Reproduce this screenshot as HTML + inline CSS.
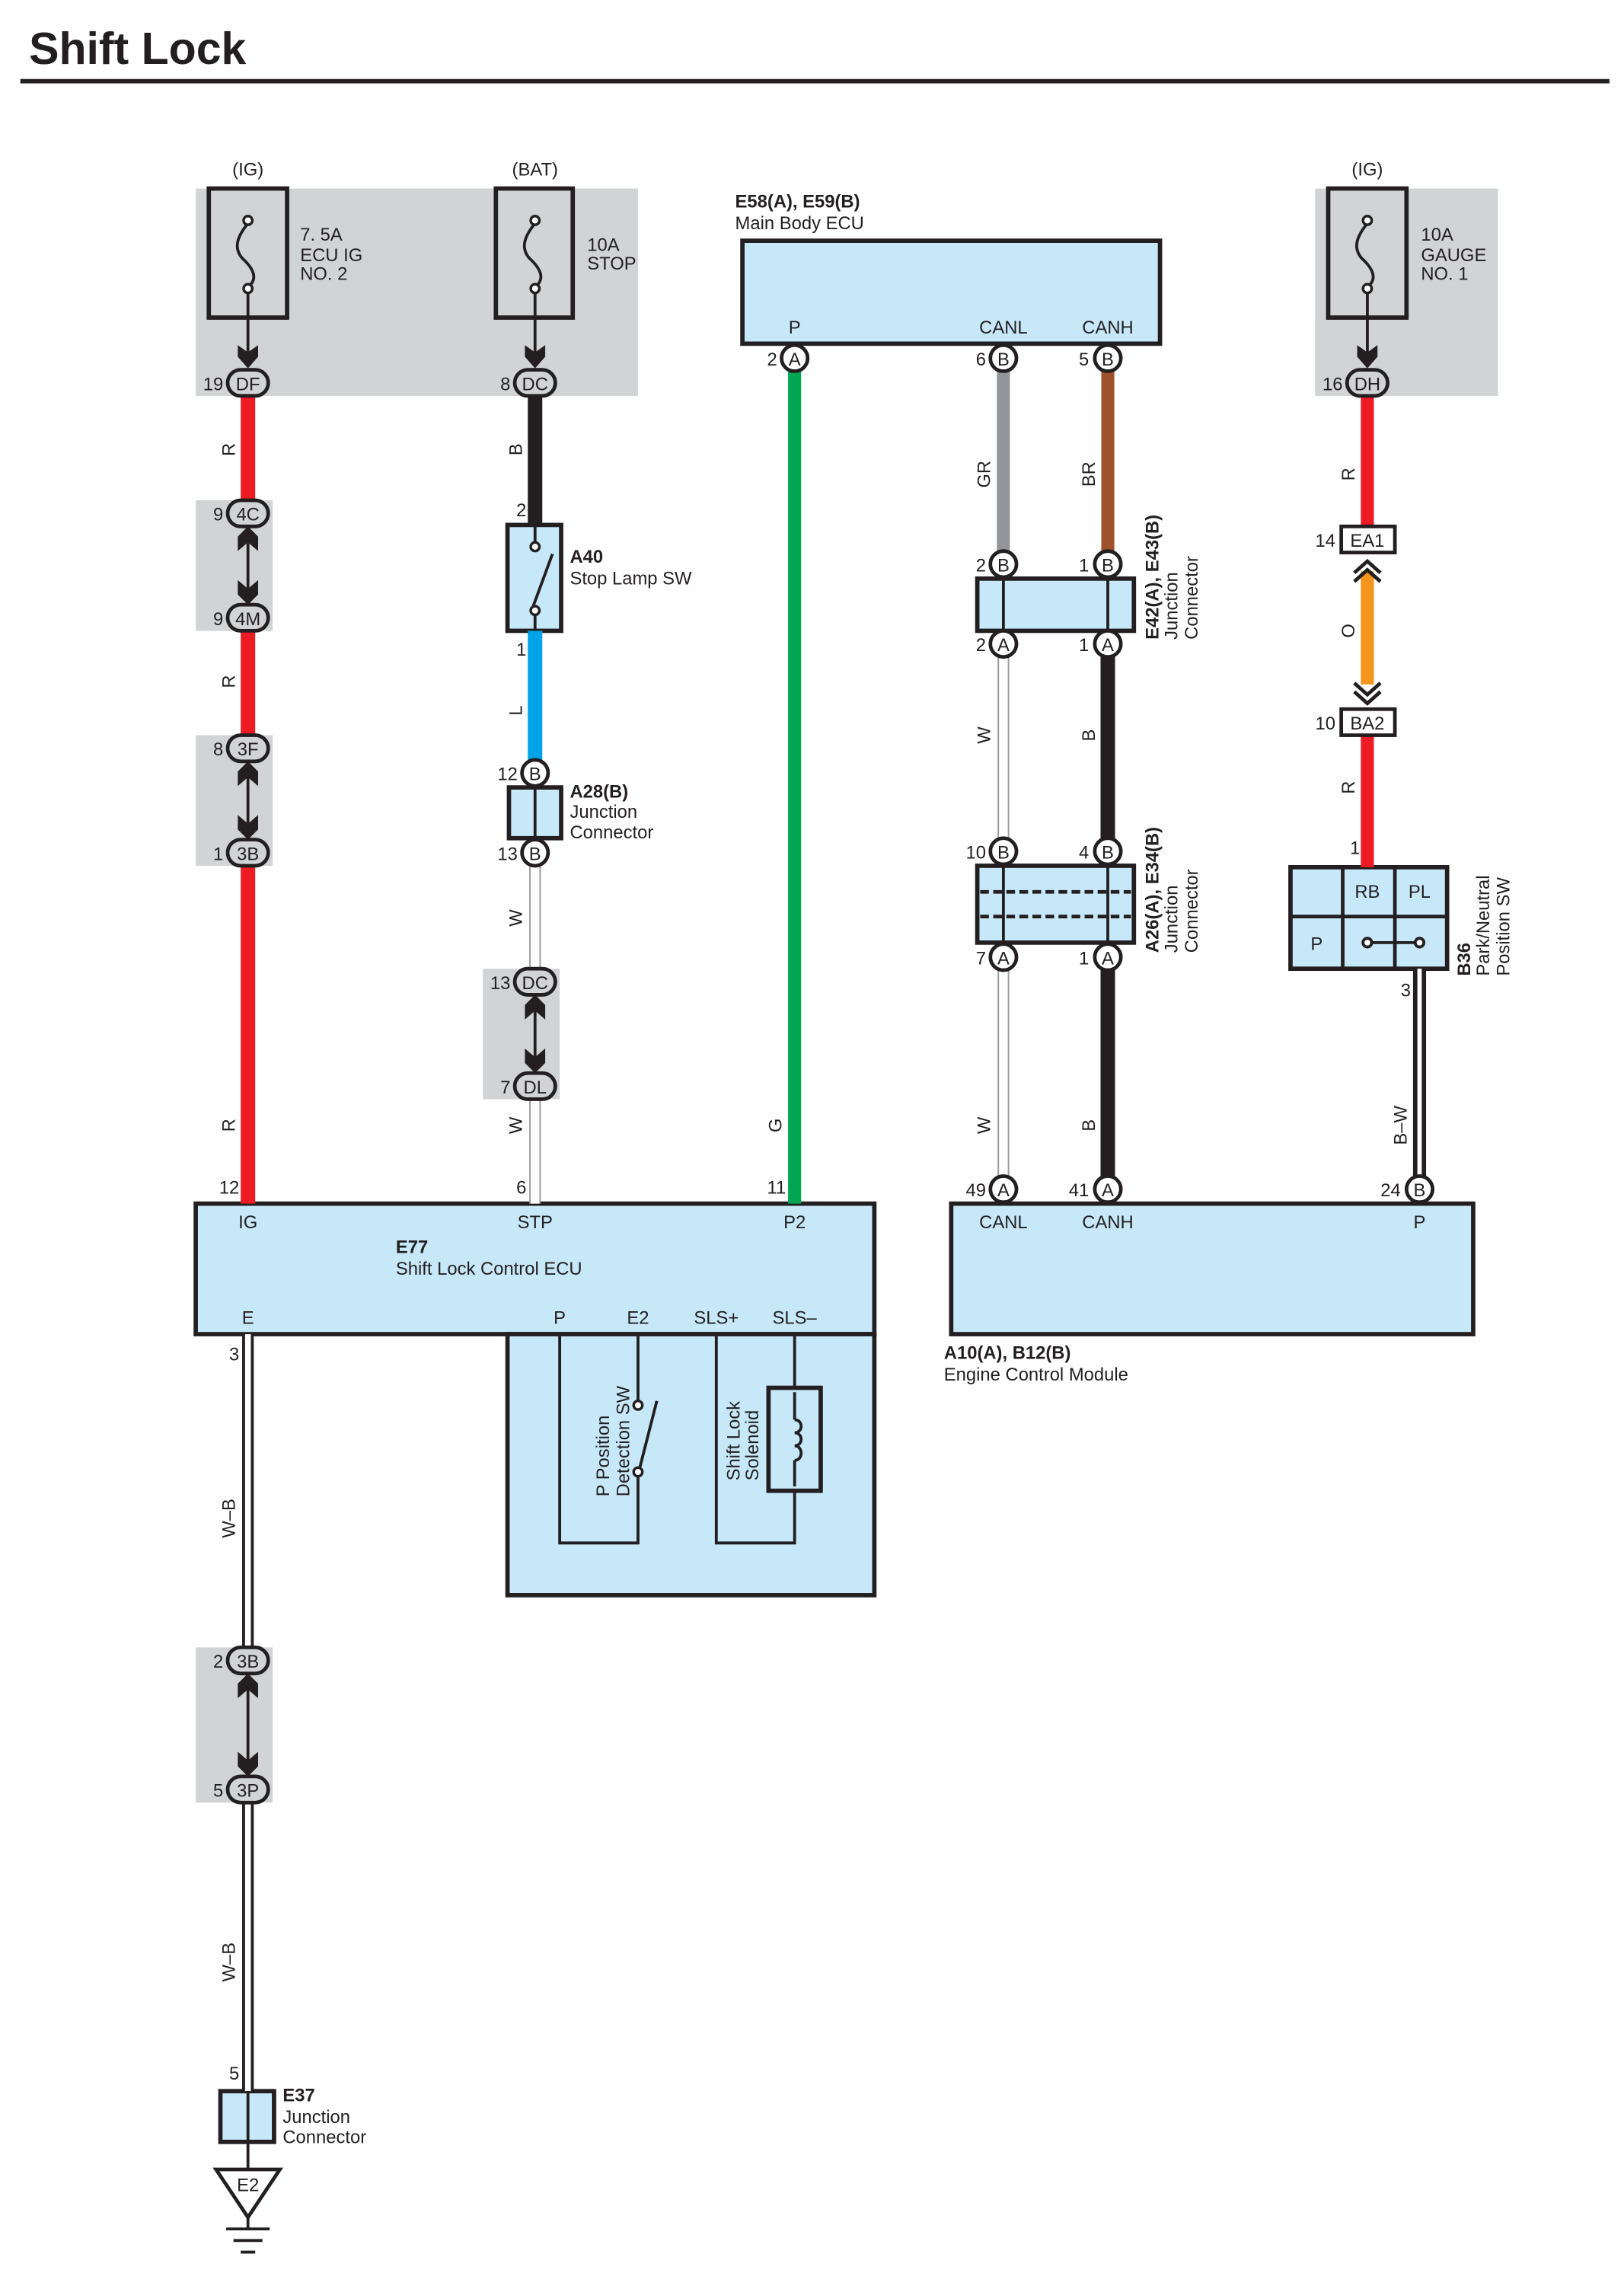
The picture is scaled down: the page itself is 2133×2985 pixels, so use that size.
<!DOCTYPE html>
<html><head><meta charset="utf-8"><style>
html,body{margin:0;padding:0;background:#fff}
svg{display:block}
text{font-family:"Liberation Sans",sans-serif;font-size:12.5px;fill:#231f20}
.b{font-weight:bold}
.c{text-anchor:middle}
.e{text-anchor:end}
</style></head><body>
<svg width="2133" height="2985" viewBox="0 0 1120 1567.4" preserveAspectRatio="none" xmlns="http://www.w3.org/2000/svg">
<rect width="1120" height="1568" fill="#fff"/>
<text x="20" y="44" class="b" style="font-size:31px">Shift Lock</text>
<line x1="14" y1="56" x2="1110" y2="56" stroke="#231f20" stroke-width="3"/>

<!-- gray areas -->
<g fill="#d1d3d4">
<rect x="135" y="130" width="305" height="143"/>
<rect x="907" y="130" width="126" height="143"/>
<rect x="135" y="345" width="53" height="90"/>
<rect x="135" y="507" width="53" height="90"/>
<rect x="333" y="668" width="53" height="90"/>
<rect x="135" y="1136" width="53" height="107"/>
</g>

<!-- blue boxes -->
<g fill="#c7e8f9" stroke="#231f20" stroke-width="3">
<rect x="512" y="166" width="288" height="71"/>
<rect x="350" y="362" width="37" height="73"/>
<rect x="351" y="543" width="36" height="35"/>
<rect x="674" y="399" width="108" height="36"/>
<rect x="674" y="597" width="108" height="53"/>
<rect x="890" y="598" width="108" height="70"/>
<rect x="135" y="830" width="468" height="90"/>
<rect x="350" y="920" width="253" height="180"/>
<rect x="656" y="830" width="360" height="90"/>
<rect x="152" y="1442" width="37" height="35"/>
</g>

<!-- fuses -->
<g fill="none" stroke="#231f20" stroke-width="3">
<rect x="144" y="130" width="54" height="89"/>
<rect x="342" y="130" width="53" height="89"/>
<rect x="916" y="130" width="54" height="89"/>
</g>
<g fill="none" stroke="#231f20" stroke-width="2">
<path d="M171,154 C162,165 162,172 167,178 C178,188 176,194 171,198"/>
<path d="M369,154 C360,165 360,172 365,178 C376,188 374,194 369,198"/>
<path d="M943,154 C934,165 934,172 939,178 C950,188 948,194 943,198"/>
<line x1="171" y1="199" x2="171" y2="245"/>
<line x1="369" y1="199" x2="369" y2="245"/>
<line x1="943" y1="199" x2="943" y2="245"/>
</g>
<g fill="#fff" stroke="#231f20" stroke-width="1.8">
<circle cx="171" cy="152" r="3"/><circle cx="171" cy="199" r="3"/>
<circle cx="369" cy="152" r="3"/><circle cx="369" cy="199" r="3"/>
<circle cx="943" cy="152" r="3"/><circle cx="943" cy="199" r="3"/>
</g>
<g fill="#231f20">
<polygon points="164,238 171,243 178,238 178,246 171,254 164,246"/>
<polygon points="362,238 369,243 376,238 376,246 369,254 362,246"/>
<polygon points="936,238 943,243 950,238 950,246 943,254 936,246"/>
</g>
<text x="171" y="121" class="c">(IG)</text>
<text x="369" y="121" class="c">(BAT)</text>
<text x="943" y="121" class="c">(IG)</text>
<text x="207" y="166">7. 5A</text><text x="207" y="180">ECU IG</text><text x="207" y="193">NO. 2</text>
<text x="405" y="173">10A</text><text x="405" y="186">STOP</text>
<text x="980" y="166">10A</text><text x="980" y="180">GAUGE</text><text x="980" y="193">NO. 1</text>

<!-- wires -->
<g fill="none" stroke-linecap="butt">
<line x1="171" y1="273" x2="171" y2="345" stroke="#ed1c24" stroke-width="10"/>
<line x1="171" y1="435" x2="171" y2="507" stroke="#ed1c24" stroke-width="10"/>
<line x1="171" y1="597" x2="171" y2="830" stroke="#ed1c24" stroke-width="10"/>
<line x1="369" y1="273" x2="369" y2="362" stroke="#231f20" stroke-width="10"/>
<line x1="369" y1="435" x2="369" y2="525" stroke="#00a3e8" stroke-width="10"/>
<path d="M369,597 V668 M369,758 V830" stroke="#9a9a9a" stroke-width="8"/>
<path d="M369,597 V668 M369,758 V830" stroke="#fff" stroke-width="6"/>
<line x1="548" y1="256" x2="548" y2="830" stroke="#00a651" stroke-width="9"/>
<line x1="692" y1="256" x2="692" y2="380" stroke="#939598" stroke-width="9"/>
<line x1="764" y1="256" x2="764" y2="380" stroke="#a0522d" stroke-width="9"/>
<line x1="692" y1="453" x2="692" y2="578" stroke="#9a9a9a" stroke-width="8"/>
<line x1="692" y1="453" x2="692" y2="578" stroke="#fff" stroke-width="6"/>
<line x1="764" y1="453" x2="764" y2="578" stroke="#231f20" stroke-width="10"/>
<line x1="692" y1="669" x2="692" y2="812" stroke="#9a9a9a" stroke-width="8"/>
<line x1="692" y1="669" x2="692" y2="812" stroke="#fff" stroke-width="6"/>
<line x1="764" y1="669" x2="764" y2="812" stroke="#231f20" stroke-width="10"/>
<line x1="943" y1="273" x2="943" y2="363" stroke="#ed1c24" stroke-width="9"/>
<line x1="943" y1="394" x2="943" y2="472" stroke="#f7941d" stroke-width="9"/>
<line x1="943" y1="507" x2="943" y2="598" stroke="#ed1c24" stroke-width="9"/>
<line x1="979" y1="668" x2="979" y2="812" stroke="#231f20" stroke-width="9"/>
<line x1="979" y1="668" x2="979" y2="812" stroke="#fff" stroke-width="3"/>
<path d="M171,920 V1136 M171,1243 V1442" stroke="#231f20" stroke-width="8"/>
<path d="M171,920 V1136 M171,1243 V1442" stroke="#fff" stroke-width="4"/>
</g>

<!-- inter-connector double arrows -->
<g fill="#231f20">
<line x1="171" y1="368" x2="171" y2="412" stroke="#231f20" stroke-width="2"/>
<polygon points="164,380 171,374 178,380 178,370 171,363 164,370"/>
<polygon points="164,400 171,406 178,400 178,410 171,417 164,410"/>
<line x1="171" y1="530" x2="171" y2="574" stroke="#231f20" stroke-width="2"/>
<polygon points="164,542 171,536 178,542 178,532 171,525 164,532"/>
<polygon points="164,562 171,568 178,562 178,572 171,579 164,572"/>
<line x1="369" y1="691" x2="369" y2="735" stroke="#231f20" stroke-width="2"/>
<polygon points="362,703 369,697 376,703 376,693 369,686 362,693"/>
<polygon points="362,723 369,729 376,723 376,733 369,740 362,733"/>
<line x1="171" y1="1159" x2="171" y2="1220" stroke="#231f20" stroke-width="2"/>
<polygon points="164,1171 171,1165 178,1171 178,1161 171,1154 164,1161"/>
<polygon points="164,1208 171,1214 178,1208 178,1218 171,1225 164,1218"/>
</g>
<g fill="none" stroke="#231f20" stroke-width="2.5">
<polyline points="934,395 943,387 952,395"/><polyline points="934,401 943,393 952,401"/>
<polyline points="934,471 943,479 952,471"/><polyline points="934,477 943,485 952,477"/>
</g>

<!-- oval connectors -->
<g fill="#d1d3d4" stroke="#231f20" stroke-width="2.5">
<rect x="157" y="255" width="28" height="18" rx="9"/>
<rect x="355" y="255" width="28" height="18" rx="9"/>
<rect x="929" y="255" width="28" height="18" rx="9"/>
<rect x="157" y="345" width="28" height="18" rx="9"/>
<rect x="157" y="417" width="28" height="18" rx="9"/>
<rect x="157" y="507" width="28" height="18" rx="9"/>
<rect x="157" y="579" width="28" height="18" rx="9"/>
<rect x="355" y="668" width="28" height="18" rx="9"/>
<rect x="355" y="740" width="28" height="18" rx="9"/>
<rect x="157" y="1136" width="28" height="18" rx="9"/>
<rect x="157" y="1225" width="28" height="18" rx="9"/>
</g>
<g fill="#fff" stroke="#231f20" stroke-width="2.5">
<rect x="925" y="363" width="37" height="18"/>
<rect x="925" y="489" width="37" height="18"/>
</g>
<g class="c">
<text x="171" y="269" class="c">DF</text><text x="369" y="269" class="c">DC</text><text x="943" y="269" class="c">DH</text>
<text x="171" y="359" class="c">4C</text><text x="171" y="431" class="c">4M</text>
<text x="171" y="521" class="c">3F</text><text x="171" y="593" class="c">3B</text>
<text x="369" y="682" class="c">DC</text><text x="369" y="754" class="c">DL</text>
<text x="171" y="1150" class="c">3B</text><text x="171" y="1239" class="c">3P</text>
<text x="943" y="377" class="c">EA1</text><text x="943" y="503" class="c">BA2</text>
</g>

<!-- round connectors -->
<g fill="#fff" stroke="#231f20" stroke-width="2.5">
<circle cx="548" cy="247" r="9"/><circle cx="692" cy="247" r="9"/><circle cx="764" cy="247" r="9"/>
<circle cx="692" cy="389" r="9"/><circle cx="764" cy="389" r="9"/>
<circle cx="692" cy="444" r="9"/><circle cx="764" cy="444" r="9"/>
<circle cx="692" cy="587" r="9"/><circle cx="764" cy="587" r="9"/>
<circle cx="692" cy="660" r="9"/><circle cx="764" cy="660" r="9"/>
<circle cx="369" cy="533" r="9"/><circle cx="369" cy="588" r="9"/>
<circle cx="692" cy="820" r="9"/><circle cx="764" cy="820" r="9"/><circle cx="979" cy="820" r="9"/>
</g>
<g>
<text x="548" y="252" class="c">A</text><text x="692" y="252" class="c">B</text><text x="764" y="252" class="c">B</text>
<text x="692" y="394" class="c">B</text><text x="764" y="394" class="c">B</text>
<text x="692" y="449" class="c">A</text><text x="764" y="449" class="c">A</text>
<text x="692" y="592" class="c">B</text><text x="764" y="592" class="c">B</text>
<text x="692" y="665" class="c">A</text><text x="764" y="665" class="c">A</text>
<text x="369" y="538" class="c">B</text><text x="369" y="593" class="c">B</text>
<text x="692" y="825" class="c">A</text><text x="764" y="825" class="c">A</text><text x="979" y="825" class="c">B</text>
</g>

<!-- pin numbers -->
<g class="e">
<text x="154" y="269" class="e">19</text><text x="352" y="269" class="e">8</text><text x="926" y="269" class="e">16</text>
<text x="154" y="359" class="e">9</text><text x="154" y="431" class="e">9</text>
<text x="154" y="521" class="e">8</text><text x="154" y="593" class="e">1</text>
<text x="352" y="682" class="e">13</text><text x="352" y="754" class="e">7</text>
<text x="154" y="1150" class="e">2</text><text x="154" y="1239" class="e">5</text>
<text x="921" y="377" class="e">14</text><text x="921" y="503" class="e">10</text>
<text x="536" y="252" class="e">2</text><text x="680" y="252" class="e">6</text><text x="751" y="252" class="e">5</text>
<text x="680" y="394" class="e">2</text><text x="751" y="394" class="e">1</text>
<text x="680" y="449" class="e">2</text><text x="751" y="449" class="e">1</text>
<text x="680" y="592" class="e">10</text><text x="751" y="592" class="e">4</text>
<text x="680" y="665" class="e">7</text><text x="751" y="665" class="e">1</text>
<text x="357" y="538" class="e">12</text><text x="357" y="593" class="e">13</text>
<text x="680" y="825" class="e">49</text><text x="751" y="825" class="e">41</text><text x="966" y="825" class="e">24</text>
<text x="363" y="356" class="e">2</text><text x="363" y="452" class="e">1</text>
<text x="165" y="823" class="e">12</text><text x="363" y="823" class="e">6</text><text x="542" y="823" class="e">11</text>
<text x="938" y="589" class="e">1</text><text x="973" y="687" class="e">3</text>
<text x="165" y="938" class="e">3</text><text x="165" y="1434" class="e">5</text>
</g>

<!-- wire color labels (rotated) -->
<g>
<text transform="translate(162,310) rotate(-90)" class="c">R</text>
<text transform="translate(162,470) rotate(-90)" class="c">R</text>
<text transform="translate(162,776) rotate(-90)" class="c">R</text>
<text transform="translate(360,310) rotate(-90)" class="c">B</text>
<text transform="translate(360,490) rotate(-90)" class="c">L</text>
<text transform="translate(360,633) rotate(-90)" class="c">W</text>
<text transform="translate(360,776) rotate(-90)" class="c">W</text>
<text transform="translate(539,776) rotate(-90)" class="c">G</text>
<text transform="translate(683,327) rotate(-90)" class="c">GR</text>
<text transform="translate(755,327) rotate(-90)" class="c">BR</text>
<text transform="translate(683,507) rotate(-90)" class="c">W</text>
<text transform="translate(755,507) rotate(-90)" class="c">B</text>
<text transform="translate(683,776) rotate(-90)" class="c">W</text>
<text transform="translate(755,776) rotate(-90)" class="c">B</text>
<text transform="translate(934,327) rotate(-90)" class="c">R</text>
<text transform="translate(934,435) rotate(-90)" class="c">O</text>
<text transform="translate(934,543) rotate(-90)" class="c">R</text>
<text transform="translate(970,776) rotate(-90)" class="c">B–W</text>
<text transform="translate(162,1047) rotate(-90)" class="c">W–B</text>
<text transform="translate(162,1353) rotate(-90)" class="c">W–B</text>
</g>

<!-- stop lamp switch -->
<g stroke="#231f20" stroke-width="2" fill="none">
<line x1="369" y1="362" x2="369" y2="374"/>
<line x1="369" y1="424" x2="369" y2="435"/>
<line x1="367" y1="420" x2="381" y2="382"/>
</g>
<g fill="#fff" stroke="#231f20" stroke-width="1.8"><circle cx="369" cy="377" r="3"/><circle cx="369" cy="421" r="3"/></g>
<text x="393" y="388" class="b">A40</text><text x="393" y="403">Stop Lamp SW</text>

<!-- A28 -->
<line x1="369" y1="543" x2="369" y2="578" stroke="#231f20" stroke-width="2"/>
<text x="393" y="550" class="b">A28(B)</text><text x="393" y="564">Junction</text><text x="393" y="578">Connector</text>

<!-- E42 / A26 internals -->
<g stroke="#231f20" stroke-width="2">
<line x1="692" y1="399" x2="692" y2="435"/><line x1="764" y1="399" x2="764" y2="435"/>
<line x1="692" y1="597" x2="692" y2="650"/><line x1="764" y1="597" x2="764" y2="650"/>
<line x1="676" y1="615" x2="780" y2="615" stroke-dasharray="6,3" stroke-width="2.5"/>
<line x1="676" y1="632" x2="780" y2="632" stroke-dasharray="6,3" stroke-width="2.5"/>
</g>
<text transform="translate(799,441) rotate(-90)" class="b">E42(A), E43(B)</text>
<text transform="translate(812,441) rotate(-90)">Junction</text>
<text transform="translate(826,441) rotate(-90)">Connector</text>
<text transform="translate(799,657) rotate(-90)" class="b">A26(A), E34(B)</text>
<text transform="translate(812,657) rotate(-90)">Junction</text>
<text transform="translate(826,657) rotate(-90)">Connector</text>

<!-- Main body ECU -->
<text x="507" y="143" class="b">E58(A), E59(B)</text><text x="507" y="158">Main Body ECU</text>
<text x="548" y="230" class="c">P</text><text x="692" y="230" class="c">CANL</text><text x="764" y="230" class="c">CANH</text>

<!-- B36 -->
<g stroke="#231f20" stroke-width="2.5">
<line x1="926" y1="598" x2="926" y2="668"/><line x1="962" y1="598" x2="962" y2="668"/>
<line x1="890" y1="632" x2="998" y2="632"/>
<line x1="943" y1="650" x2="979" y2="650" stroke-width="2"/>
</g>
<g fill="#fff" stroke="#231f20" stroke-width="2"><circle cx="943" cy="650" r="3"/><circle cx="979" cy="650" r="3"/></g>
<text x="943" y="619" class="c">RB</text><text x="979" y="619" class="c">PL</text><text x="908" y="655" class="c">P</text>
<text transform="translate(1014,673) rotate(-90)" class="b">B36</text>
<text transform="translate(1027,673) rotate(-90)">Park/Neutral</text>
<text transform="translate(1041,673) rotate(-90)">Position SW</text>

<!-- E77 -->
<text x="171" y="847" class="c">IG</text><text x="369" y="847" class="c">STP</text><text x="548" y="847" class="c">P2</text>
<text x="273" y="864" class="b">E77</text><text x="273" y="879">Shift Lock Control ECU</text>
<text x="171" y="913" class="c">E</text><text x="386" y="913" class="c">P</text><text x="440" y="913" class="c">E2</text>
<text x="494" y="913" class="c">SLS+</text><text x="548" y="913" class="c">SLS–</text>
<g stroke="#231f20" stroke-width="2" fill="none">
<polyline points="386,920 386,1064 440,1064 440,1017"/>
<line x1="440" y1="920" x2="440" y2="966"/>
<line x1="441" y1="1013" x2="453" y2="966"/>
<polyline points="494,920 494,1064 548,1064 548,1028"/>
<line x1="548" y1="920" x2="548" y2="957"/>
<rect x="530" y="957" width="36" height="71" stroke-width="3"/>
<path d="M548,960 L548,979 M548,1007 L548,1025"/>
<path d="M548,979 c6,0 6,9 0,9 c6,0 6,9 0,9 c6,0 6,10 0,10"/>
</g>
<g fill="#fff" stroke="#231f20" stroke-width="1.8"><circle cx="440" cy="969" r="3"/><circle cx="440" cy="1015" r="3"/></g>
<text transform="translate(420,1032) rotate(-90)">P Position</text>
<text transform="translate(434,1032) rotate(-90)">Detection SW</text>
<text transform="translate(510,1021) rotate(-90)">Shift Lock</text>
<text transform="translate(523,1021) rotate(-90)">Solenoid</text>

<!-- ECM -->
<text x="692" y="847" class="c">CANL</text><text x="764" y="847" class="c">CANH</text><text x="979" y="847" class="c">P</text>
<text x="651" y="937" class="b">A10(A), B12(B)</text><text x="651" y="952">Engine Control Module</text>

<!-- E37 + ground -->
<line x1="171" y1="1442" x2="171" y2="1496" stroke="#231f20" stroke-width="2"/>
<text x="195" y="1449" class="b">E37</text><text x="195" y="1464">Junction</text><text x="195" y="1478">Connector</text>
<polygon points="149,1496 193,1496 171,1529" fill="#fff" stroke="#231f20" stroke-width="2.5"/>
<text x="171" y="1511" class="c">E2</text>
<g stroke="#231f20" stroke-width="2">
<line x1="171" y1="1529" x2="171" y2="1537"/>
<line x1="156" y1="1537" x2="186" y2="1537"/>
<line x1="161" y1="1545" x2="181" y2="1545"/>
<line x1="166" y1="1553" x2="176" y2="1553"/>
</g>
</svg>
</body></html>
